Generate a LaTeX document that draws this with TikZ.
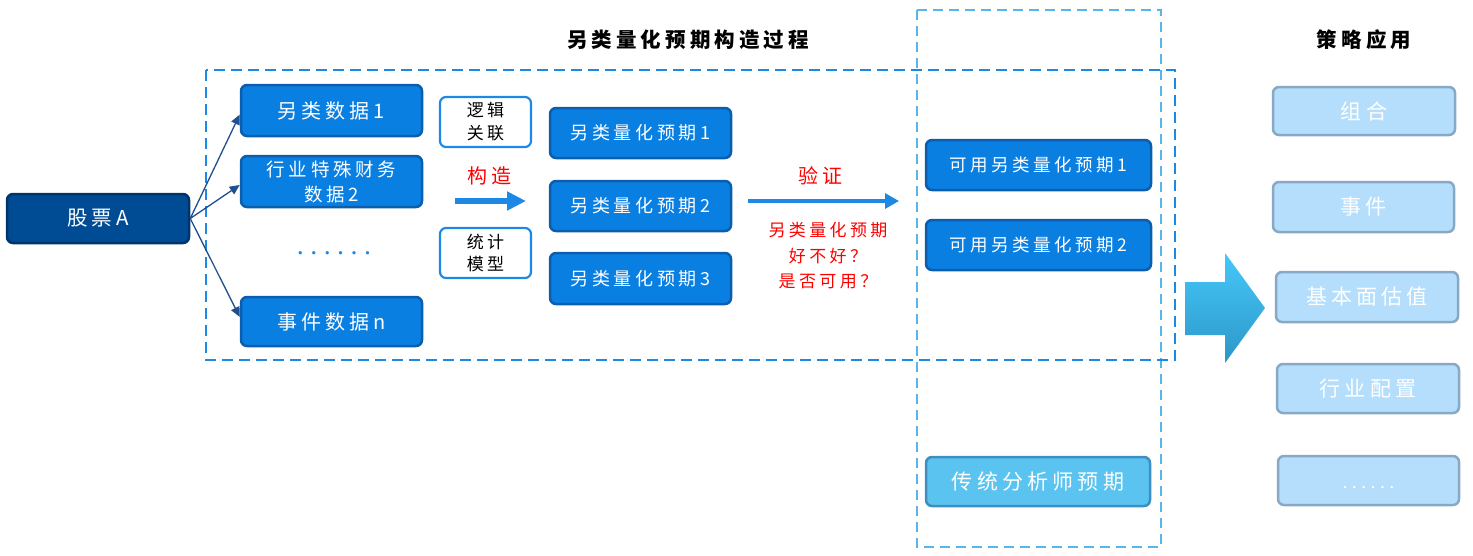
\documentclass[tikz,border=0pt]{standalone}
\usepackage{fontspec}
\setmainfont{Liberation Serif}
\newfontfamily\cjk[LetterSpace=20]{Noto Sans CJK SC}
\newfontfamily\dotf[LetterSpace=23]{Liberation Serif}
\newfontfamily\dotg[LetterSpace=22]{Liberation Serif}
\usetikzlibrary{arrows.meta,shadings}
\newcommand\fz[2]{\cjk\fontsize{#1}{#2}\selectfont}
\definecolor{bf}{HTML}{0A7FE2}
\definecolor{bb}{HTML}{0B5EAE}
\definecolor{df}{HTML}{004C94}
\definecolor{db}{HTML}{00356B}
\definecolor{lb}{HTML}{1E88E5}
\definecolor{cf}{HTML}{5AC3F0}
\definecolor{cb}{HTML}{3E8FBF}
\definecolor{pf}{HTML}{B4DEFB}
\definecolor{pb}{HTML}{88A9C6}
\definecolor{cn}{HTML}{1F4F8F}
\definecolor{dsh}{HTML}{1E88E5}
\definecolor{dsl}{HTML}{5AB4EA}
\definecolor{rd}{HTML}{FF0000}
\tikzset{
  bx/.style={rectangle, rounded corners=6pt, line width=2.5pt, inner sep=0pt, align=center},
  bluebox/.style={bx, draw=bb, fill=bf, text=white},
  darkbox/.style={bx, draw=db, fill=df, text=white},
  whitebox/.style={bx, draw=lb, fill=white, text=black, line width=2.2pt},
  litebox/.style={bx, draw=cb, fill=cf, text=white},
  palebox/.style={bx, draw=pb, fill=pf, text=white},
  conn/.style={draw=cn, line width=1.3pt, -{Triangle[length=10pt,width=9pt]}},
  redtxt/.style={text=rd, inner sep=0pt, align=center},
  ttl/.style={text=black, inner sep=0pt, font={\fz{20.5}{24}\bfseries}},
}
\begin{document}
\begin{tikzpicture}[x=1pt,y=-1pt]
\useasboundingbox (0,0) rectangle (1473,555);
% dashed frames
\draw[dsl, line width=2pt, dash pattern=on 10pt off 6pt] (917,10) rectangle (1161,547);
\draw[dsh, line width=2.5pt, dash pattern=on 11pt off 6pt] (206,70) rectangle (1175,360);
% titles
\node[ttl] (t1) at (688,40) {另类量化预期构造过程};
\node[ttl] (t2) at (1364,40) {策略应用};
% left column
\node[darkbox, minimum width=182pt, minimum height=49pt, font={\fz{20.5}{24}}] (gp) at (98,218.5) {股票A};
\node[bluebox, minimum width=181pt, minimum height=51pt, font={\fz{20}{24}}] (d1) at (331.5,110.5) {另类数据1};
\node[bluebox, minimum width=181pt, minimum height=51pt, font={\fz{18.5}{25}}] (d2) at (331.5,181.5) {行业特殊财务\\数据2};
\node[text=lb, inner sep=0pt, font={\dotf\fontsize{28}{28}\selectfont}] (dd) at (334,253) {......};
\node[bluebox, minimum width=181pt, minimum height=49pt, font={\fz{20}{24}}] (dn) at (331.5,321.5) {事件数据n};
\draw[conn] (gp.east) -- ([yshift=-4pt]d1.west);
\draw[conn] (gp.east) -- ([yshift=-3.5pt]d2.west);
\draw[conn] (gp.east) -- ([yshift=4.5pt]dn.west);
% construction
\node[whitebox, minimum width=91pt, minimum height=50pt, font={\fz{17}{23}}] (lj) at (485.5,122) {逻辑\\关联};
\node[whitebox, minimum width=91pt, minimum height=50pt, font={\fz{17}{23}}] (tj) at (485.5,253) {统计\\模型};
\node[redtxt, font={\fz{20}{24}}] (gz) at (489,176) {构造};
\coordinate (ga) at (455,201);
\coordinate (gb) at (526,201);
\draw[lb, line width=6.5pt, -{Triangle[length=19pt,width=18pt]}] (ga) -- (gb);
% expectations
\node[bluebox, minimum width=181pt, minimum height=50pt, font={\fz{18}{22}}] (e1) at (640.5,133) {另类量化预期1};
\node[bluebox, minimum width=181pt, minimum height=50pt, font={\fz{18}{22}}] (e2) at (640.5,206) {另类量化预期2};
\node[bluebox, minimum width=181pt, minimum height=51pt, font={\fz{18}{22}}] (e3) at (640.5,278.5) {另类量化预期3};
% verification
\node[redtxt, font={\fz{20}{24}}] (yz) at (820,176) {验证};
\coordinate (va) at (748,201);
\coordinate (vb) at (899,201);
\draw[lb, line width=3.2pt, -{Triangle[length=14pt,width=15pt]}] (va) -- (vb);
\node[redtxt, font={\fz{17}{25.5}}] (q) at (828,256) {另类量化预期\\好不好？\\是否可用？};
% usable
\node[bluebox, minimum width=225pt, minimum height=50pt, font={\fz{17.5}{22}}] (k1) at (1038.5,165) {可用另类量化预期1};
\node[bluebox, minimum width=225pt, minimum height=50pt, font={\fz{17.5}{22}}] (k2) at (1038.5,245) {可用另类量化预期2};
\node[litebox, minimum width=224pt, minimum height=49pt, font={\fz{21}{24}}] (ct) at (1038,481.5) {传统分析师预期};
% big arrow
\shade[top color={rgb,255:red,70;green,200;blue,250}, bottom color={rgb,255:red,44;green,150;blue,200}]
  (1185,282) -- (1225,282) -- (1225,253) -- (1265,308) -- (1225,363) -- (1225,335) -- (1185,335) -- cycle;
% strategy applications
\node[palebox, minimum width=182pt, minimum height=48pt, font={\fz{21}{24}}] (r1) at (1364,111) {组合};
\node[palebox, minimum width=181pt, minimum height=50pt, font={\fz{21}{24}}] (r2) at (1363.5,207) {事件};
\node[palebox, minimum width=182pt, minimum height=50pt, font={\fz{21}{24}}] (r3) at (1367,297) {基本面估值};
\node[palebox, minimum width=182pt, minimum height=49pt, font={\fz{21}{24}}] (r4) at (1368,388.5) {行业配置};
\node[palebox, minimum width=181pt, minimum height=49pt, font={\dotg\fontsize{20}{24}\selectfont}] (r5) at (1368.5,480.5) {\vphantom{\fz{20}{24}行}......};
\end{tikzpicture}
\end{document}
